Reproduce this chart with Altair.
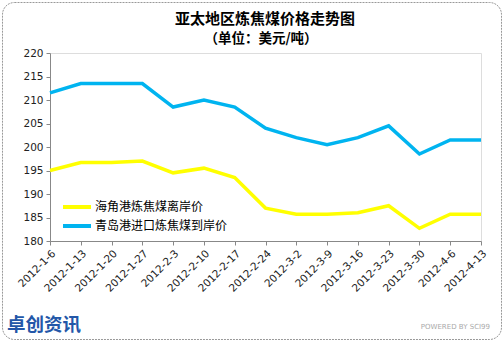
import altair as alt
import pandas as pd

dates = ["2012-1-6", "2012-1-13", "2012-1-20", "2012-1-27", "2012-2-3", "2012-2-10",
         "2012-2-17", "2012-2-24", "2012-3-2", "2012-3-9", "2012-3-16", "2012-3-23",
         "2012-3-30", "2012-4-6", "2012-4-13"]
series_names = ["海角港炼焦煤离岸价", "青岛港进口炼焦煤到岸价"]
haijiao = [195, 196.7, 196.7, 197, 194.5, 195.5, 193.5, 187, 185.7, 185.7, 186, 187.5, 182.7, 185.7, 185.7]
qingdao = [211.5, 213.5, 213.5, 213.5, 208.5, 210, 208.5, 204, 202, 200.5, 202, 204.5, 198.5, 201.5, 201.5]
colors = ["#FFFF00", "#00B4F0"]
y_ticks = [180, 185, 190, 195, 200, 205, 210, 215, 220]
title_text = "亚太地区炼焦煤价格走势图"
subtitle_text = "（单位：美元/吨）"

rows = []
for name, vals in zip(series_names, [haijiao, qingdao]):
    for i, (d, v) in enumerate(zip(dates, vals)):
        rows.append({"date": d, "order": i, "series": name, "value": v})
df = pd.DataFrame(rows)

W, H = 431, 188
PL, PT = 50, 53

lines = alt.Chart(df).mark_line(strokeWidth=3.5, clip=False).encode(
    x=alt.X("date:O", sort=dates, title=None,
            scale=alt.Scale(type="point", padding=0),
            axis=alt.Axis(labelAngle=-45, labelFont="DejaVu Sans", labelFontSize=10.5,
                          labelColor="#222", domainColor="#888", tickColor="#888",
                          tickSize=4, labelPadding=3, grid=False)),
    y=alt.Y("value:Q", title=None,
            scale=alt.Scale(domain=[180, 220], nice=False, zero=False),
            axis=alt.Axis(values=y_ticks, labelFont="DejaVu Sans", labelFontSize=10.5,
                          labelColor="#222", domainColor="#888", tickColor="#888",
                          tickSize=4, labelPadding=3, grid=False)),
    color=alt.Color("series:N",
                    scale=alt.Scale(domain=series_names, range=colors),
                    legend=alt.Legend(title=None, orient="none", legendX=18, legendY=145,
                                      symbolType="M-2,0H2", symbolSize=196,
                                      symbolStrokeWidth=4, labelFont="Noto Sans CJK SC",
                                      labelFontSize=12, labelColor="#000",
                                      rowPadding=2, labelOffset=9)),
    order="order:Q",
)

border = alt.Chart(pd.DataFrame({"a": [0]})).mark_rect(
    fill=None, stroke="#999", strokeWidth=1, strokeDash=[2, 1], cornerRadius=12, clip=False
).encode(
    x=alt.value(2 - PL + 0.5), x2=alt.value(501 - PL + 0.5),
    y=alt.value(2 - PT + 0.5), y2=alt.value(339 - PT + 0.5),
)

title = alt.Chart(pd.DataFrame({"t": [title_text]})).mark_text(
    font="Noto Sans CJK SC", fontSize=15, fontWeight="bold", color="#000",
    align="center", baseline="middle", clip=False
).encode(x=alt.value(265 - PL), y=alt.value(19 - PT), text="t:N")

subtitle = alt.Chart(pd.DataFrame({"t": [subtitle_text]})).mark_text(
    font="Noto Sans CJK SC", fontSize=13.5, fontWeight="bold", color="#000",
    align="center", baseline="middle", clip=False
).encode(x=alt.value(261 - PL), y=alt.value(39 - PT), text="t:N")

logo = alt.Chart(pd.DataFrame({"t": ["卓创资讯"]})).mark_text(
    font="Noto Sans CJK SC", fontSize=18.5, fontWeight="bold", color="#2357A8",
    align="left", baseline="middle", clip=False
).encode(x=alt.value(7 - PL), y=alt.value(325 - PT), text="t:N")

powered = alt.Chart(pd.DataFrame({"t": ["POWERED BY SCI99"]})).mark_text(
    font="DejaVu Sans", fontSize=7, color="#aaa", align="right", baseline="middle", clip=False
).encode(x=alt.value(490 - PL), y=alt.value(327 - PT), text="t:N")

chart = alt.layer(border, title, subtitle, lines, logo, powered).properties(
    width=W, height=H,
    autosize=alt.AutoSizeParams(type="none"),
    padding={"left": PL, "top": PT, "right": 504 - PL - W, "bottom": 341 - PT - H},
).configure_view(stroke=None).configure(background="white")

chart.save("out.html", embed_options={"renderer": "svg", "actions": False})
